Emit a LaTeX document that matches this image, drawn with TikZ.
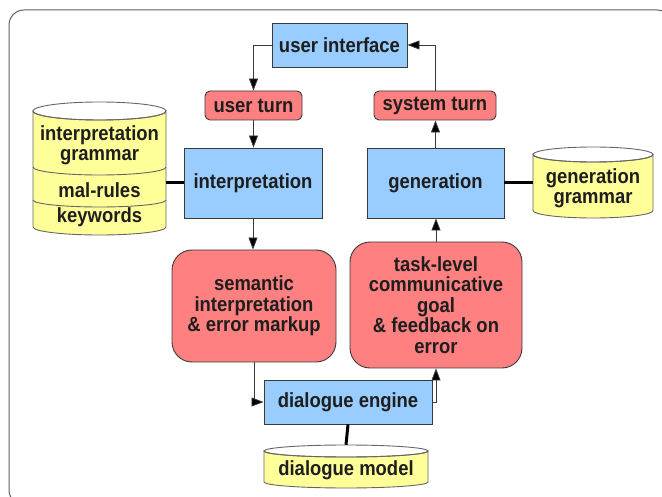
\documentclass[tikz,border=0pt]{standalone}
\usepackage{fontspec}
\setmainfont{Liberation Sans}[FakeStretch=0.9]
\usetikzlibrary{arrows.meta,calc}
\definecolor{boxblue}{HTML}{99CCFF}
\definecolor{boxred}{HTML}{FF8080}
\definecolor{boxyellow}{HTML}{FFFF99}
\definecolor{edge}{HTML}{3A3A3A}
\definecolor{txt}{HTML}{1E1E1E}
\tikzset{
  lbl/.style={font=\fontsize{20.5}{20.5}\selectfont\bfseries, text=txt, align=center, inner sep=0pt},
  bluebox/.style={lbl, draw=edge, fill=boxblue, line width=0.9pt},
  redbox/.style={lbl, draw=edge, fill=boxred, line width=0.9pt},
  cylbox/.style={inner sep=0pt},
  cylfill/.style={fill=boxyellow, draw=gray!80!black, line width=0.9pt},
  arr/.style={draw=edge, line width=0.8pt, -{Triangle[length=12pt,width=9pt,fill=black]}},
  thickline/.style={draw=black, line width=3pt},
}
\begin{document}
\begin{tikzpicture}[x=1pt,y=-1pt]
\useasboundingbox (0,0) rectangle (662,497);
\begin{scope}
\clip (0,0) rectangle (662,497);
\draw[edge!80, line width=1pt, rounded corners=15pt] (9,10) rectangle (672,505);
\end{scope}

% boxes
\node[bluebox, minimum width=135pt, minimum height=44pt] (ui) at (339.5,45) {user interface};
\node[redbox, rounded corners=5pt, minimum width=97pt, minimum height=29pt] (uturn) at (253.5,105.5) {user turn};
\node[redbox, rounded corners=5pt, minimum width=122pt, minimum height=29pt] (sturn) at (435,105.5) {system turn};
\node[bluebox, minimum width=138pt, minimum height=70pt] (interp) at (253,183) {interpretation};
\node[bluebox, minimum width=137pt, minimum height=70pt] (gen) at (435.5,183) {generation};
\node[redbox, rounded corners=20pt, minimum width=164pt, minimum height=112pt] (sem) at (254,306) {semantic\\interpretation\\\& error markup};
\node[redbox, rounded corners=20pt, minimum width=172pt, minimum height=126pt] (task) at (436,305) {task-level\\communicative\\goal\\\& feedback on\\error};
\node[bluebox, minimum width=168pt, minimum height=44pt] (de) at (348,402) {dialogue engine};

% interpretation cylinder
\path[cylfill] (33,111) -- (33,227) arc[start angle=180, end angle=0, x radius=66.5, y radius=8] -- (166,111) arc[start angle=0, end angle=180, x radius=66.5, y radius=9] -- cycle;
\draw[gray!80!black, line width=0.9pt] (99.5,111) ellipse [x radius=66.5, y radius=9];
\draw[gray!80!black, line width=0.9pt] (33,167) arc[start angle=180, end angle=0, x radius=66.5, y radius=8];
\draw[gray!80!black, line width=0.9pt] (33,200) arc[start angle=180, end angle=0, x radius=66.5, y radius=7];
\node[cylbox, minimum width=133pt, minimum height=133pt] (icyl) at (99.5,168.5) {};
\node[lbl] (igram) at (99.5,145) {interpretation\\grammar};
\node[lbl] (imal) at (99.5,190) {mal-rules};
\node[lbl] (ikey) at (99.5,217) {keywords};

% generation grammar cylinder
\path[cylfill] (533,154.5) -- (533,210.5) arc[start angle=180, end angle=0, x radius=60, y radius=7.5] -- (653,154.5) arc[start angle=0, end angle=180, x radius=60, y radius=7.5] -- cycle;
\draw[gray!80!black, line width=0.9pt] (593,154.5) ellipse [x radius=60, y radius=7.5];
\node[cylbox, minimum width=120pt, minimum height=71pt] (gcyl) at (593,182.5) {};
\node[lbl] (gtext) at (593,188) {generation\\grammar};

% dialogue model cylinder
\path[cylfill] (264,451) -- (264,482) arc[start angle=180, end angle=0, x radius=82, y radius=6] -- (428,451) arc[start angle=0, end angle=180, x radius=82, y radius=6] -- cycle;
\draw[gray!80!black, line width=0.9pt] (346,451) ellipse [x radius=82, y radius=6];
\node[cylbox, minimum width=164pt, minimum height=43pt] (dm) at (346,466.5) {};
\node[lbl] (dmtext) at (346,470) {dialogue model};

% connectors
\draw[arr] (ui.west) -| (uturn.north);
\draw[arr] (uturn.south) -- (uturn.south |- interp.north);
\draw[arr] (interp.south) -- (interp.south |- sem.north);
\draw[arr] (sem.south) |- (de.west);
\draw[arr] (de.east) -| (task.south);
\draw[arr] (task.north) -- (task.north |- gen.south);
\draw[arr] (gen.north) -- (gen.north |- sturn.south);
\draw[arr] (sturn.north) |- (ui.east);

\draw[thickline] (interp.west) -- (interp.west -| icyl.east);
\draw[thickline] (gen.east) -- (gen.east -| gcyl.west);
\draw[thickline] (de.south) -- (dm.north);
\end{tikzpicture}
\end{document}
